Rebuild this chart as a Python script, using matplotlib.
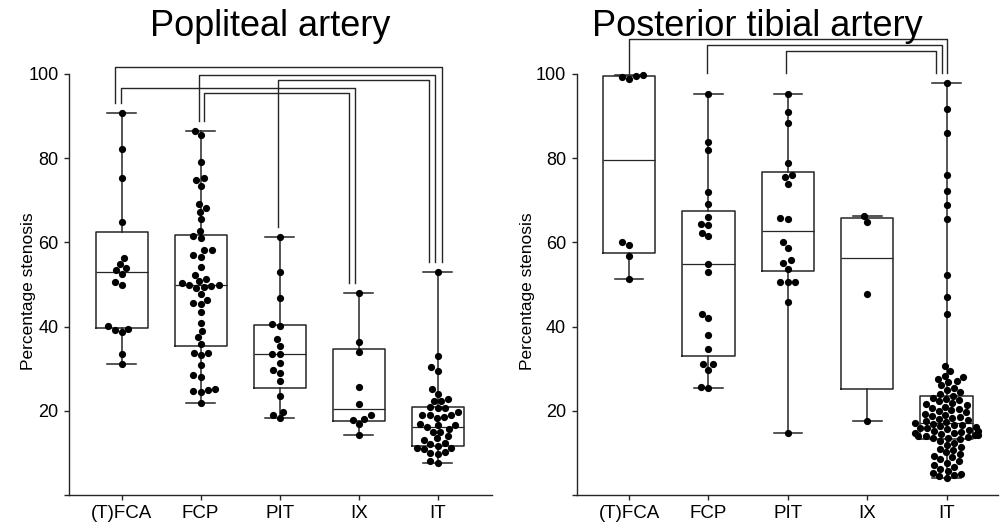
import matplotlib
matplotlib.use("Agg")
import matplotlib.pyplot as plt
import pandas as pd
import seaborn as sns

plt.rcParams['font.family'] = ['Liberation Sans', 'DejaVu Sans']

groups = ["(T)FCA", "FCP", "PIT", "IX", "IT"]

# ---- Popliteal artery: % stenosis per group ----
pop_tfca = [90.7, 82.2, 75.2, 64.8, 56.3, 54.8, 53.8, 53.4, 52.4, 50.7, 49.9,
            40.2, 39.5, 39.2, 38.6, 33.4, 31.2]
pop_fcp = [86.5, 85.4, 79.2, 75.4, 74.9, 73.5, 69.0, 68.2, 67.3, 65.6, 62.7,
           61.5, 61.0, 58.1, 58.1, 56.9, 56.6, 54.1, 52.3, 51.3, 50.8, 50.4,
           49.9, 49.8, 49.6, 49.5, 49.2, 47.8, 46.2, 45.7, 45.3, 43.5, 40.8,
           38.9, 37.4, 35.8, 33.8, 33.8, 33.2, 30.8, 28.4, 28.1, 25.1, 24.9,
           24.7, 24.4, 21.8]
pop_pit = [61.3, 52.9, 46.7, 40.6, 40.2, 37.0, 35.4, 33.4, 33.4, 31.3, 29.7,
           28.9, 27.1, 23.5, 19.8, 19.0, 18.3]
pop_ix = [48.0, 36.4, 34.0, 25.6, 21.5, 18.9, 18.0, 17.8, 16.8, 14.2]
pop_it = [53.0, 33.0, 30.3, 29.4, 25.2, 24.0, 22.8, 22.4, 22.2, 20.8, 20.7,
          20.7, 19.6, 19.1, 19.0, 19.0, 18.6, 18.2, 16.9, 16.6, 16.5, 16.1,
          15.6, 15.0, 14.9, 13.9, 13.4, 13.1, 12.3, 12.0, 11.7, 11.2, 11.1,
          11.0, 10.3, 10.0, 9.6, 8.0, 7.6]
pop_med = [52.9, 49.8, 33.4, 20.3, 16.1]
pop_q1 = [39.6, 35.4, 25.3, 17.6, 11.6]
pop_q3 = [62.5, 61.7, 40.4, 34.7, 20.8]

# ---- Posterior tibial artery ----
pt_tfca = [99.8, 99.5, 99.3, 98.7, 60.2, 59.4, 56.8, 51.2]
pt_fcp = [95.2, 83.8, 81.9, 71.9, 69.1, 66.0, 64.3, 64.1, 62.2, 61.5, 54.8,
          52.9, 43.0, 42.1, 38.1, 34.7, 31.1, 31.0, 29.7, 25.7, 25.5]
pt_pit = [95.2, 91.0, 88.3, 78.9, 75.9, 75.5, 73.9, 65.9, 65.5, 60.0, 58.6,
          55.7, 55.1, 53.7, 50.7, 50.6, 50.5, 45.8, 14.8]
pt_ix = [66.3, 64.8, 47.7, 17.5]
pt_it = [97.8, 91.7, 86.0, 76.0, 72.1, 68.8, 65.5, 52.3, 47.1, 43.0, 30.7,
         29.4, 28.3, 27.9, 27.6, 27.0, 26.8, 26.1, 25.4, 24.9, 24.4, 24.0, 23.6,
         23.1, 22.9, 22.6, 22.2, 21.9, 21.6, 21.3, 21.0, 20.7, 20.5, 20.2, 19.9,
         19.6, 19.3, 19.1, 18.8, 18.5, 18.3, 18.0, 17.8, 17.5, 17.3, 17.1,
         16.9, 16.7, 16.5, 16.3, 16.1, 16.0, 15.8, 15.6, 15.5, 15.3, 15.2, 15.0,
         14.8, 14.7, 14.5, 14.3, 14.2, 14.0, 13.9, 13.7, 13.6, 13.4, 13.3,
         12.8, 12.3, 11.9, 11.4, 11.0, 10.6, 10.1, 9.7, 9.3, 8.9, 8.5, 8.0,
         7.6, 7.1, 6.6, 6.1, 5.7, 5.3, 5.0, 4.7, 4.4, 4.0]
pt_med = [79.5, 54.8, 62.8, 56.4, 17.0]
pt_q1 = [57.5, 32.9, 53.1, 25.1, 13.3]
pt_q3 = [99.5, 67.5, 76.7, 65.9, 23.4]

# comparison brackets: (group a, dx a, group b, dx b, bracket height)
pop_brackets = [(0, -0.09, 4, 0.05, 101.7), (1, -0.025, 4, -0.034, 99.8),
                (2, -0.022, 4, -0.114, 98.5), (0, -0.013, 3, -0.047, 96.6),
                (1, 0.042, 3, -0.123, 95.4)]
pt_brackets = [(0, 0.0, 4, 0.005, 108.3), (1, -0.014, 4, -0.062, 107.0),
               (2, -0.026, 4, -0.137, 105.5)]

INK = "#262626"
W, H = 1005, 528
fig = plt.figure(figsize=(W / 100, H / 100), dpi=100)


def panel(rect, xlim, series, med, q1, q3, brackets, leg_floor, title, title_x, ylab_x):
    ax = fig.add_axes(rect)
    ax.set_ylim(0, 110)
    df = pd.DataFrame({"group": [g for g, v in zip(groups, series) for _ in v],
                       "value": [x for v in series for x in v]})
    stats = [dict(med=m, q1=a, q3=b, whislo=min(v), whishi=max(v), fliers=[])
             for v, m, a, b in zip(series, med, q1, q3)]
    lp = dict(color=INK, linewidth=1.1)
    ax.bxp(stats, positions=range(len(groups)), widths=0.66, capwidths=0.36,
           showfliers=False, boxprops=lp, whiskerprops=lp, capprops=lp,
           medianprops=dict(color=INK, linewidth=0.9))
    sns.swarmplot(data=df, x="group", y="value", order=groups, color="black",
                  size=5.2, ax=ax, zorder=3)
    ax.set_xlim(*xlim)
    ax.set_ylim(0, 110)

    # significance brackets
    for ia, da, ib, db, top in brackets:
        ya = leg_floor if leg_floor else max(series[ia]) + 2.4
        yb = leg_floor if leg_floor else max(series[ib]) + 2.4
        ax.plot([ia + da, ia + da, ib + db, ib + db], [ya, top, top, yb],
                color=INK, lw=1.0, zorder=2)

    for s in ("top", "right"):
        ax.spines[s].set_visible(False)
    for s in ("left", "bottom"):
        ax.spines[s].set_color(INK)
        ax.spines[s].set_linewidth(1.0)
    ax.spines["left"].set_bounds(0, 100)
    ax.set_yticks([0, 20, 40, 60, 80, 100])
    ax.set_yticklabels(["", "20", "40", "60", "80", "100"])
    ax.set_xticks(range(len(groups)))
    ax.set_xticklabels(groups)
    ax.tick_params(axis="both", direction="out", length=3.6, width=1.0,
                   color=INK, labelsize=13, labelcolor="black", pad=4)
    ax.tick_params(axis="x", labelsize=13.5, pad=3.5)
    ax.set_xlabel("")
    ax.set_ylabel("Percentage stenosis", fontsize=12.5)
    ax.yaxis.set_label_coords(ylab_x, 0.44)
    fig.text(title_x / W, 1 - 36 / H, title, ha="center", va="baseline", fontsize=26)
    return ax


bottom = (H - 494.9) / H
height = 110 * 4.209 / H
panel([69 / W, bottom, 422.7 / W, height], (-0.667, 4.684),
      [pop_tfca, pop_fcp, pop_pit, pop_ix, pop_it], pop_med, pop_q1, pop_q3,
      pop_brackets, None, "Popliteal artery", 270, -0.078)
panel([576.7 / W, bottom, 421.6 / W, height], (-0.659, 4.65),
      [pt_tfca, pt_fcp, pt_pit, pt_ix, pt_it], pt_med, pt_q1, pt_q3,
      pt_brackets, 100.3, "Posterior tibial artery", 757, -0.098)

fig.savefig("out.png", dpi=100)
